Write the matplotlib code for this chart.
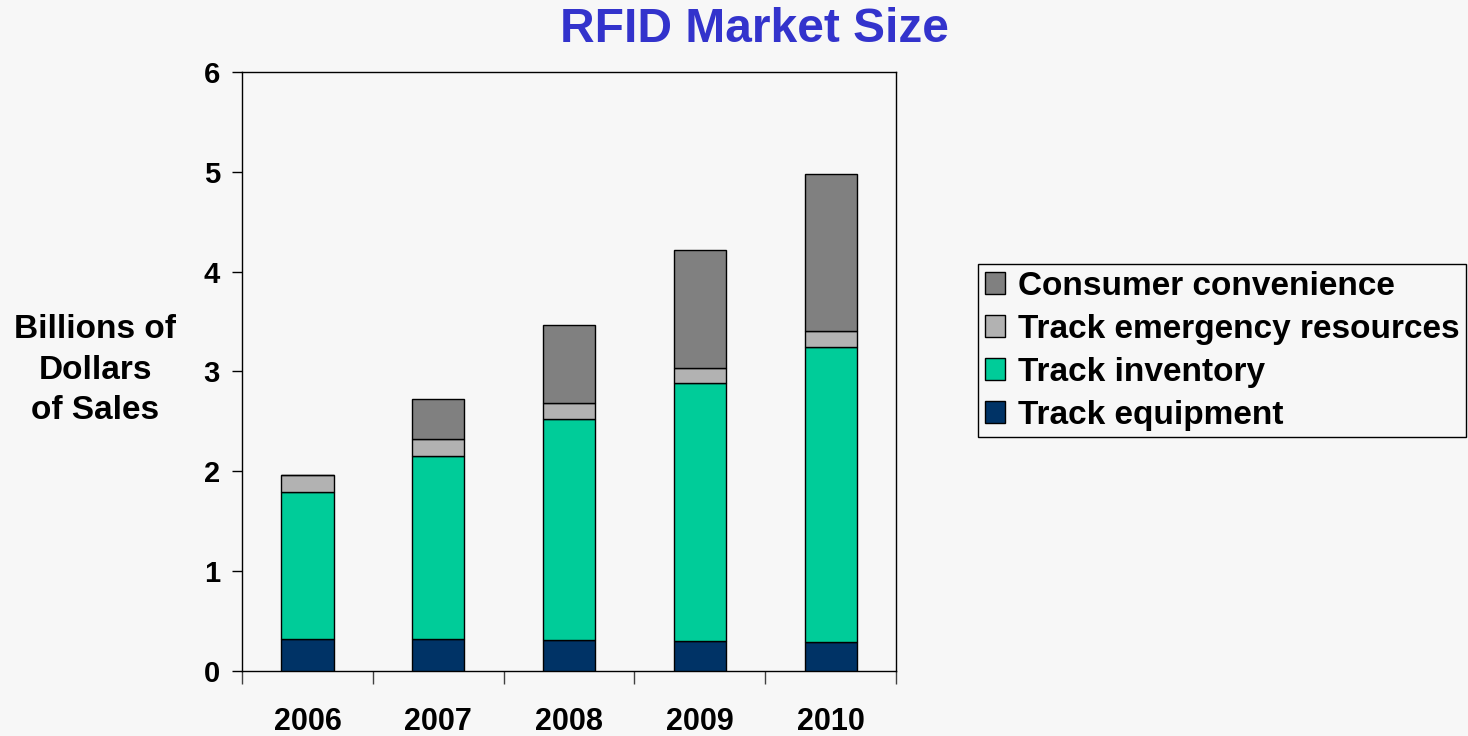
import matplotlib.pyplot as plt
import numpy as np

# data (billions of dollars)
years = ['2006', '2007', '2008', '2009', '2010']
track_equipment = [0.32, 0.32, 0.31, 0.30, 0.29]
track_inventory = [1.47, 1.83, 2.21, 2.58, 2.96]
track_emergency = [0.17, 0.17, 0.16, 0.16, 0.16]
consumer_convenience = [0.0, 0.40, 0.79, 1.18, 1.57]

series = [
    ('Track equipment', track_equipment, '#003366'),
    ('Track inventory', track_inventory, '#00CC99'),
    ('Track emergency resources', track_emergency, '#B2B2B2'),
    ('Consumer convenience', consumer_convenience, '#808080'),
]

plt.rcParams['font.family'] = ['Liberation Sans', 'DejaVu Sans']
plt.rcParams['font.weight'] = 'bold'

bg = '#F7F7F7'
fig = plt.figure(figsize=(14.68, 7.36), dpi=100, facecolor=bg)
ax = fig.add_axes([0.1649, 0.0883, 0.4455, 0.8139])
ax.set_facecolor(bg)

x = np.arange(len(years))
bottom = np.zeros(len(years))
handles = []
for name, vals, color in series:
    vals = np.array(vals)
    h = ax.bar(x, vals, width=0.4, bottom=bottom, color=color,
               edgecolor='black', linewidth=1.0, label=name, zorder=3)
    handles.append(h)
    bottom += vals

ax.set_xlim(-0.5, len(years) - 0.5)
ax.set_ylim(0, 6)
ax.set_yticks(range(7))
ax.tick_params(axis='y', direction='out', length=7, width=1, labelsize=21, pad=9)

# category labels centered, tick marks between categories
ax.set_xticks(x)
ax.set_xticklabels(years, fontsize=22)
ax.tick_params(axis='x', which='major', length=0, pad=26)
ax.set_xticks(np.arange(-0.5, len(years)), minor=True)
ax.tick_params(axis='x', which='minor', direction='out', length=9, width=1, color='#404040')

for s in ax.spines.values():
    s.set_linewidth(1.0)
    s.set_color('black')

fig.text(0.065, 0.497, 'Billions of\nDollars\nof Sales', ha='center', va='center',
         fontsize=24, fontweight='bold', linespacing=1.4)

fig.text(0.514, 0.96, 'RFID Market Size', ha='center', va='center',
         fontsize=34.5, fontweight='bold', color='#3333CC')

leg = ax.legend(handles[::-1], [s[0] for s in series][::-1],
                loc='upper left', bbox_to_anchor=(0.6662, 0.6413),
                bbox_transform=fig.transFigure, fontsize=24, frameon=True,
                fancybox=False, edgecolor='black', facecolor=bg, framealpha=1,
                handlelength=0.6, handleheight=0.6, handletextpad=0.4,
                labelspacing=0.36, borderpad=0.2, borderaxespad=0)
leg.get_frame().set_linewidth(1.0)

fig.savefig('out.png', dpi=100, facecolor=bg)
